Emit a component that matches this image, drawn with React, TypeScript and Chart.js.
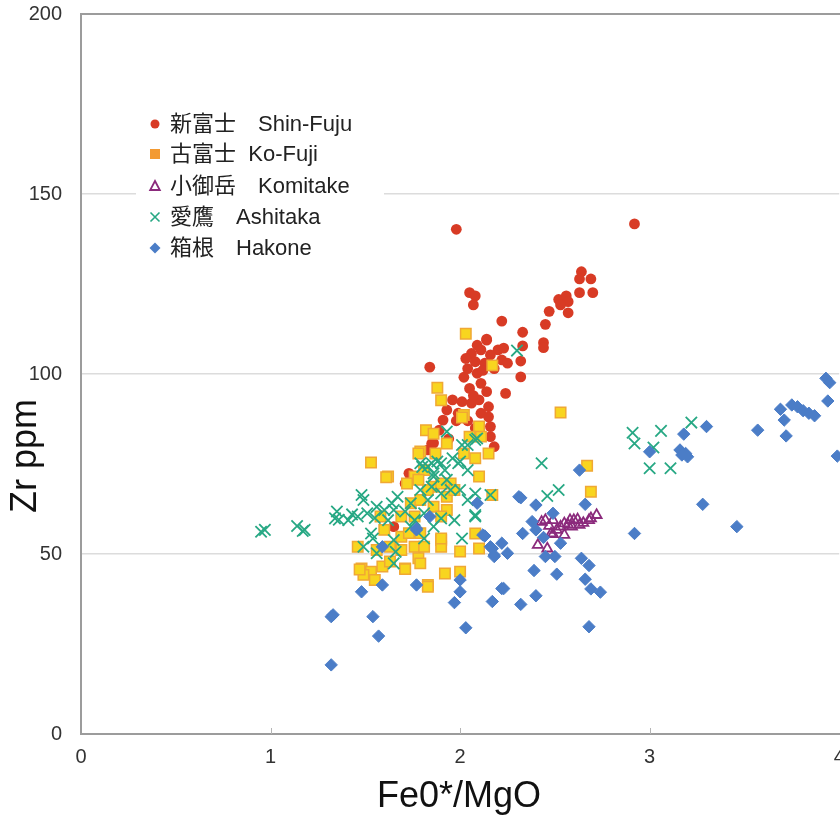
import React, { useEffect, useRef } from 'react';
import { Chart, registerables } from 'chart.js';

Chart.register(...registerables);

// ---- data ----
const xTickValues = [0, 1, 2, 3, 4];
const yTickValues = [0, 50, 100, 150, 200];
const xTitle = 'Fe0*/MgO';
const yTitle = 'Zr ppm';

const seriesLabels = [
  '新富士　Shin-Fuju',
  '古富士  Ko-Fuji',
  '小御岳　Komitake',
  '愛鷹　Ashitaka',
  '箱根　Hakone',
];

const shinFuji: [number, number][] = [
  [1.98, 140.2], [2.92, 141.7], [2.64, 128.4], [2.63, 126.4], [2.69, 126.4], [2.52, 120.7],
  [2.56, 121.7], [2.57, 120.1], [2.53, 119.2], [2.57, 117.0], [2.63, 122.6], [2.70, 122.6],
  [2.47, 117.4], [2.45, 113.8], [2.44, 108.7], [2.44, 107.3], [2.05, 122.6], [2.08, 121.7],
  [2.07, 119.2], [2.22, 114.7], [2.33, 111.6], [2.33, 107.8], [2.32, 103.6], [2.32, 99.2],
  [2.24, 94.6], [1.84, 101.9], [2.02, 99.1], [2.14, 109.4], [2.09, 108.0], [2.06, 105.7],
  [2.11, 106.7], [2.20, 106.7], [2.23, 107.2], [2.16, 105.3], [2.03, 104.3], [2.08, 103.4],
  [2.13, 103.0], [2.22, 103.9], [2.25, 103.0], [2.09, 100.2], [2.11, 97.4], [2.14, 95.1],
  [1.96, 92.8], [2.01, 92.3], [2.06, 91.9], [2.10, 92.8], [2.15, 90.9], [1.93, 90.0],
  [1.99, 89.1], [2.11, 89.1], [2.15, 88.1], [1.91, 87.2], [2.16, 85.4], [1.89, 84.4],
  [2.16, 82.6], [2.18, 79.8], [1.85, 80.7], [1.83, 78.9], [1.73, 72.4], [1.71, 69.6],
  [1.65, 57.6], [1.86, 80.8], [2.04, 101.5], [2.12, 101.0], [2.18, 101.5], [2.05, 96.0],
  [2.07, 94.0], [1.98, 87.0], [2.04, 87.0], [2.08, 85.0], [1.94, 82.0], [2.14, 109.7],
];

const koFuji: [number, number][] = [
  [2.03, 111.2], [2.17, 102.4], [1.88, 96.2], [1.90, 92.7], [2.02, 88.6], [2.53, 89.3],
  [2.01, 87.9], [1.82, 84.4], [1.86, 83.4], [2.10, 85.4], [2.11, 82.6], [2.05, 82.6],
  [1.93, 80.7], [2.15, 77.9], [2.08, 76.6], [2.02, 77.9], [1.79, 78.5], [1.62, 71.5],
  [2.10, 71.5], [1.76, 71.5], [1.81, 73.3], [1.95, 69.6], [1.86, 68.7], [1.53, 75.4],
  [1.61, 71.3], [1.78, 77.9], [1.87, 77.9], [1.72, 69.6], [1.78, 70.6], [1.83, 67.8],
  [1.90, 69.6], [1.93, 65.9], [1.97, 67.8], [1.74, 64.1], [1.79, 65.0], [1.86, 63.1],
  [1.93, 62.2], [1.58, 60.4], [1.69, 60.4], [1.76, 60.4], [1.90, 60.4], [1.60, 56.7],
  [1.69, 54.8], [1.73, 55.8], [1.79, 55.8], [1.90, 53.9], [1.46, 52.0], [1.56, 51.1],
  [1.63, 52.0], [1.69, 51.1], [1.76, 52.0], [1.81, 52.0], [1.90, 52.0], [1.78, 48.8],
  [1.59, 46.5], [1.48, 46.0], [1.53, 45.1], [1.49, 44.2], [1.55, 42.8], [1.71, 46.0],
  [1.79, 47.4], [1.92, 44.6], [1.83, 41.4], [2.67, 74.5], [2.69, 67.3], [2.17, 66.4],
  [2.08, 55.7], [2.10, 51.5], [2.00, 50.7], [2.00, 45.1], [1.83, 40.9], [1.90, 54.3],
  [1.47, 45.7], [1.63, 47.9], [1.71, 45.8],
];

const komitake: [number, number][] = [
  [2.45, 59.4], [2.49, 59.4], [2.48, 55.7], [2.53, 57.6], [2.57, 58.1], [2.60, 59.4],
  [2.63, 58.1], [2.68, 59.4], [2.69, 59.9], [2.72, 60.8], [2.41, 52.5], [2.46, 51.5],
  [2.55, 55.3], [2.59, 57.6], [2.51, 56.7], [2.43, 58.9], [2.58, 59.4], [2.62, 59.6],
  [2.49, 55.5], [2.55, 58.5], [2.65, 58.6], [2.47, 57.8],
];

const ashitaka: [number, number][] = [
  [0.95, 56.2], [0.97, 56.7], [1.14, 57.8], [1.17, 56.4], [1.35, 61.8], [1.34, 59.9],
  [1.48, 66.4], [1.49, 65.0], [1.41, 59.4], [1.46, 60.4], [1.51, 61.3], [1.56, 63.1],
  [1.55, 60.0], [1.60, 62.2], [1.65, 62.2], [1.67, 65.9], [1.64, 64.1], [1.62, 59.4],
  [1.53, 55.7], [1.54, 54.3], [1.49, 52.0], [1.56, 50.2], [1.65, 53.9], [1.66, 50.6],
  [1.65, 47.4], [1.71, 61.8], [1.74, 64.1], [1.76, 59.4], [1.79, 75.2], [1.83, 74.3],
  [1.88, 75.7], [1.92, 73.3], [1.96, 76.6], [1.99, 75.2], [1.86, 71.5], [1.93, 70.6],
  [1.79, 67.8], [1.85, 68.7], [1.83, 65.0], [1.90, 66.8], [1.95, 67.8], [2.00, 67.8],
  [2.04, 65.0], [2.08, 66.8], [2.04, 80.3], [2.09, 82.1], [1.93, 84.0], [2.08, 60.8],
  [1.97, 59.4], [1.90, 59.9], [1.81, 61.3], [2.01, 54.3], [1.81, 54.3], [1.74, 57.6],
  [2.16, 66.4], [1.86, 57.6], [2.30, 106.5], [2.08, 81.7], [2.01, 80.3], [2.00, 75.7],
  [2.04, 73.3], [1.90, 75.2], [1.85, 75.2], [1.80, 74.2], [1.86, 72.4], [2.43, 75.2],
  [2.46, 66.1], [2.52, 67.8], [2.08, 60.4], [2.91, 83.7], [2.92, 80.7], [3.06, 84.2],
  [3.02, 79.6], [3.00, 73.8], [3.11, 73.8], [3.22, 86.5], [1.18, 56.7], [1.36, 59.5],
  [1.43, 61.0],
];

const hakone: [number, number][] = [
  [1.32, 32.6], [1.33, 33.1], [1.48, 39.5], [1.59, 41.4], [1.54, 32.6], [1.57, 27.2],
  [1.32, 19.2], [1.77, 41.4], [2.00, 42.8], [2.00, 39.5], [1.97, 36.5], [2.03, 29.5],
  [1.59, 52.0], [1.77, 56.7], [1.84, 60.4], [2.09, 64.1], [2.12, 55.3], [2.16, 52.0],
  [2.22, 53.0], [2.18, 49.7], [2.25, 50.2], [2.31, 65.9], [2.22, 40.4], [3.30, 85.4],
  [3.18, 83.3], [3.00, 78.4], [3.16, 78.9], [3.19, 77.9], [3.20, 77.0], [3.17, 77.5],
  [2.63, 73.3], [2.32, 65.6], [2.40, 63.6], [2.66, 63.8], [2.49, 61.3], [2.38, 59.0],
  [2.40, 56.7], [2.33, 55.7], [2.44, 54.6], [2.53, 53.0], [2.13, 55.0], [2.17, 51.5],
  [2.18, 49.3], [2.45, 49.3], [2.50, 49.3], [2.64, 48.8], [2.68, 46.8], [2.39, 45.4],
  [2.51, 44.4], [2.66, 43.0], [2.23, 40.4], [2.69, 40.3], [2.74, 39.4], [2.40, 38.4],
  [2.32, 36.0], [2.17, 36.8], [2.92, 55.7], [3.28, 63.8], [3.93, 98.8], [3.95, 97.6],
  [3.94, 92.5], [3.69, 90.2], [3.71, 87.2], [3.72, 82.8], [3.75, 91.4], [3.78, 90.9],
  [3.81, 89.8], [3.84, 89.1], [3.87, 88.4], [3.57, 84.4], [3.46, 57.6], [3.99, 77.2],
  [1.77, 57.1], [2.68, 29.8],
];

// ---- styles ----
const FONT = '"Liberation Sans", Arial, "Noto Sans CJK JP", sans-serif';
const RED = '#d83b25';
const YELLOW = '#f8d51f';
const YELLOW_EDGE = '#f0a834';
const ORANGE = '#f39a32';
const PURPLE = '#8b2a7c';
const GREEN = '#27a884';
const BLUE = '#4b7dc7';

const toPts = (arr: [number, number][]) => arr.map(([x, y]) => ({ x, y }));

function drawLegendMarker(ctx: CanvasRenderingContext2D, kind: number, x: number, y: number) {
  ctx.save();
  if (kind === 0) {
    ctx.fillStyle = RED;
    ctx.beginPath();
    ctx.arc(x, y, 4.5, 0, Math.PI * 2);
    ctx.fill();
  } else if (kind === 1) {
    ctx.fillStyle = ORANGE;
    ctx.fillRect(x - 5, y - 5, 10, 10);
  } else if (kind === 2) {
    ctx.strokeStyle = PURPLE;
    ctx.lineWidth = 1.8;
    ctx.beginPath();
    ctx.moveTo(x, y - 5);
    ctx.lineTo(x + 4.8, y + 4);
    ctx.lineTo(x - 4.8, y + 4);
    ctx.closePath();
    ctx.stroke();
  } else if (kind === 3) {
    ctx.strokeStyle = GREEN;
    ctx.lineWidth = 1.6;
    ctx.beginPath();
    ctx.moveTo(x - 4.5, y - 4.5);
    ctx.lineTo(x + 4.5, y + 4.5);
    ctx.moveTo(x + 4.5, y - 4.5);
    ctx.lineTo(x - 4.5, y + 4.5);
    ctx.stroke();
  } else {
    ctx.fillStyle = BLUE;
    ctx.beginPath();
    ctx.moveTo(x, y - 5.5);
    ctx.lineTo(x + 5.5, y);
    ctx.lineTo(x, y + 5.5);
    ctx.lineTo(x - 5.5, y);
    ctx.closePath();
    ctx.fill();
  }
  ctx.restore();
}

const decorPlugin = {
  id: 'decor',
  beforeDatasetsDraw(chart: any) {
    const { ctx, chartArea: a } = chart;
    ctx.save();
    ctx.strokeStyle = '#9c9c9c';
    ctx.lineWidth = 2;
    ctx.beginPath();
    ctx.moveTo(a.right + 20, a.top);
    ctx.lineTo(a.left, a.top);
    ctx.lineTo(a.left, a.bottom);
    ctx.lineTo(a.right + 20, a.bottom);
    ctx.stroke();
    const xs = chart.scales.x;
    ctx.lineWidth = 1;
    ctx.strokeStyle = '#b5b5b5';
    ctx.beginPath();
    for (const v of xTickValues.slice(1, -1)) {
      const px = Math.round(xs.getPixelForValue(v)) + 0.5;
      ctx.moveTo(px, a.bottom);
      ctx.lineTo(px, a.bottom - 6);
    }
    ctx.stroke();
    ctx.restore();
  },
  afterDraw(chart: any) {
    const { ctx, chartArea: a } = chart;
    ctx.save();
    // legend box
    ctx.fillStyle = '#ffffff';
    ctx.fillRect(136, 104, 248, 162);
    const rows = [124, 154, 186, 217, 248];
    ctx.font = `22px ${FONT}`;
    ctx.fillStyle = '#222222';
    ctx.textBaseline = 'middle';
    ctx.textAlign = 'left';
    seriesLabels.forEach((lab, i) => {
      drawLegendMarker(ctx, i, 155, rows[i]);
      ctx.fillText(lab, 170, rows[i] + 1);
    });
    // axis titles
    ctx.font = `36px ${FONT}`;
    ctx.fillStyle = '#111111';
    ctx.textAlign = 'center';
    ctx.textBaseline = 'middle';
    ctx.fillText(xTitle, 459, 797);
    ctx.save();
    ctx.translate(26, 456);
    ctx.rotate(-Math.PI / 2);
    ctx.fillText(yTitle, 0, 0);
    ctx.restore();
    ctx.restore();
  },
};

export default function App() {
  const ref = useRef<HTMLCanvasElement | null>(null);
  useEffect(() => {
    document.body.style.margin = '0';
    const canvas = ref.current;
    if (!canvas) return;
    const common = { clip: false as any };
    const chart = new Chart(canvas, {
      type: 'scatter',
      data: {
        datasets: [
          {
            label: seriesLabels[0], data: toPts(shinFuji), order: 5, ...common,
            pointStyle: 'circle', pointRadius: 5.4, backgroundColor: RED, borderColor: RED, borderWidth: 0,
          },
          {
            label: seriesLabels[1], data: toPts(koFuji), order: 4, ...common,
            pointStyle: 'rect', pointRadius: 7.4, backgroundColor: YELLOW, borderColor: YELLOW_EDGE, borderWidth: 1.5,
          },
          {
            label: seriesLabels[2], data: toPts(komitake), order: 3, ...common,
            pointStyle: 'triangle', pointRadius: 5.8, backgroundColor: 'rgba(0,0,0,0)', borderColor: PURPLE, borderWidth: 1.8,
          },
          {
            label: seriesLabels[3], data: toPts(ashitaka), order: 2, ...common,
            pointStyle: 'crossRot', pointRadius: 8, backgroundColor: GREEN, borderColor: GREEN, borderWidth: 1.8,
          },
          {
            label: seriesLabels[4], data: toPts(hakone), order: 1, ...common,
            pointStyle: 'rectRot', pointRadius: 6.2, backgroundColor: BLUE, borderColor: BLUE, borderWidth: 1,
          },
        ],
      },
      options: {
        responsive: false,
        animation: false,
        events: [],
        layout: { padding: { left: 0, top: 14, right: 2, bottom: 0 } },
        plugins: { legend: { display: false }, tooltip: { enabled: false }, title: { display: false } },
        scales: {
          x: {
            type: 'linear', min: 0, max: 4,
            afterFit: (s: any) => { s.height = 88; s.paddingLeft = 0; s.paddingRight = 0; },
            afterBuildTicks: (s: any) => { s.ticks = xTickValues.map((v) => ({ value: v })); },
            grid: { display: false, drawTicks: false },
            border: { display: false },
            ticks: { padding: 11, color: '#333333', font: { family: FONT, size: 20 }, maxRotation: 0 },
          },
          y: {
            type: 'linear', min: 0, max: 200,
            afterFit: (s: any) => { s.width = 81; s.paddingTop = 0; s.paddingBottom = 0; },
            afterBuildTicks: (s: any) => { s.ticks = yTickValues.map((v) => ({ value: v })); },
            grid: { display: true, drawTicks: false, color: '#dcdcdc', lineWidth: 1.5 },
            border: { display: false },
            ticks: { padding: 19, color: '#333333', font: { family: FONT, size: 20 } },
          },
        },
      },
      plugins: [decorPlugin],
    });
    return () => chart.destroy();
  }, []);
  return (
    <div style={{ width: 840, height: 822, overflow: 'hidden', background: '#ffffff' }}>
      <canvas ref={ref} width={849} height={822} style={{ display: 'block' }} />
    </div>
  );
}
